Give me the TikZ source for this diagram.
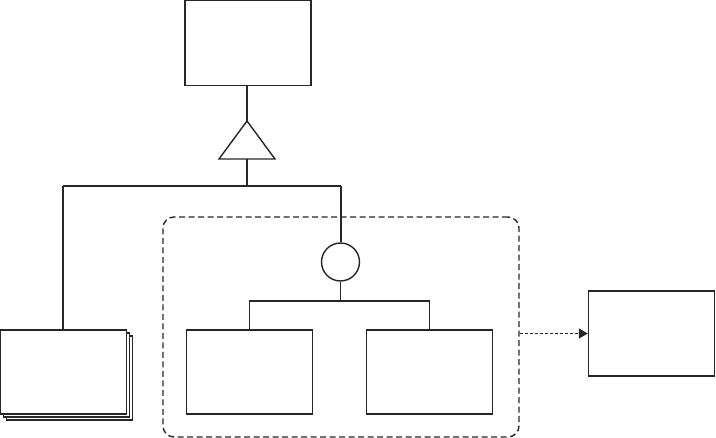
\documentclass[tikz,border=0pt]{standalone}
\usetikzlibrary{arrows.meta}
\begin{document}
\begin{tikzpicture}[x=1pt,y=-1pt,
  ln/.style={line width=1.4pt,draw=black!85},
  box/.style={ln,rectangle,fill=white,inner sep=0pt,minimum width=126pt,minimum height=84pt},
  grp/.style={line width=1.4pt,draw=black!85,dash pattern=on 6pt off 3.5pt,rounded corners=11pt},
  dep/.style={line width=1.4pt,draw=black!85,dash pattern=on 3pt off 2pt,-{Triangle[length=9pt,width=10pt]}}]
\useasboundingbox (0,0) rectangle (716,438);
% top box
\node[box,minimum height=85pt] (top) at (248,43) {};
% triangle
\coordinate (triA) at (247,121);
\coordinate (triB) at (247,159);
\draw[ln,fill=white] (triA) -- (275,159) -- (219,159) -- cycle;
\draw[ln] (top.south -| triA) -- (triA);
\coordinate (j1) at (247,186);
\coordinate (jl) at (63,186);
\coordinate (jr) at (341,186);
\draw[ln] (triB) -- (j1);
\draw[ln] (jl) -- (jr);
% stack
\node[box] (st3) at (69.5,378) {};
\node[box] (st2) at (66.5,375) {};
\node[box] (stack) at (63.5,372) {};
\draw[ln] (jl) -- (jl |- stack.north);
% group
\node[grp,rectangle,inner sep=0pt,minimum width=356pt,minimum height=220pt] (group) at (341,327) {};
% circle
\node[ln,circle,inner sep=0pt,minimum size=38pt] (circ) at (340.5,262) {};
\draw[ln] (jr) -- (jr |- circ.north);
% children
\node[box] (c1) at (249.5,372) {};
\node[box] (c2) at (429.5,372) {};
\coordinate (j2) at (340.5,301);
\draw[ln] (circ.south) -- (j2);
\draw[ln] (c1.north) -- (c1.north |- j2) -- (c2.north |- j2) -- (c2.north);
% right box
\node[box,minimum height=85pt] (rb) at (651.5,333.5) {};
\draw[dep] (group.east |- rb.west) -- (rb.west);
\end{tikzpicture}
\end{document}
